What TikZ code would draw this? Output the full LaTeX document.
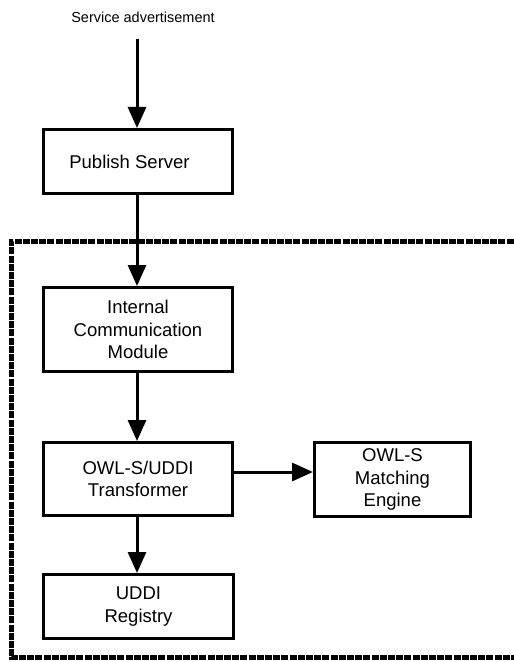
\documentclass[tikz,border=0pt]{standalone}
\usepackage{fontspec}
\setmainfont{Liberation Sans}
\usetikzlibrary{arrows.meta}
\tikzset{
  boxnode/.style={draw, line width=3bp, rectangle, align=center, inner sep=0pt,
    font=\fontsize{18.5bp}{22.5bp}\selectfont},
  arr/.style={line width=3bp, -{Triangle[length=21bp,width=18bp]}},
  frame/.style={line width=5bp, dash pattern=on 7bp off 1.2bp}
}
\begin{document}
\begin{tikzpicture}[x=1bp,y=-1bp]
\useasboundingbox (0,0) rectangle (514,662);
\clip (0,0) rectangle (514,662);
\fill[white] (0,0) rectangle (514,662);
% frame
\draw[frame] (530,241.5) -- (11,241.5) -- (11,657.5) -- (530,657.5);
% nodes
\node[font=\fontsize{14.5bp}{17bp}\selectfont] (svc) at (143,17) {Service advertisement};
\coordinate (svcstart) at (137,39);
\node[boxnode, minimum width=189bp, minimum height=64bp] (pub) at (138,161.5) {Publish Server\hspace*{17bp}};
\node[boxnode, minimum width=189bp, minimum height=84bp] (icm) at (138,329.5) {Internal\\Communication\\Module};
\node[boxnode, minimum width=189bp, minimum height=73bp] (tr) at (138,479) {OWL-S/UDDI\\Transformer};
\node[boxnode, minimum width=156bp, minimum height=74bp] (me) at (392.5,479.5) {OWL-S\\Matching\\Engine};
\node[boxnode, minimum width=190bp, minimum height=64bp] (ud) at (138.5,606.5) {UDDI\\Registry};
% connectors
\draw[arr] (svcstart) -- (svcstart |- pub.north);
\draw[arr] (pub.south -| svcstart) -- (icm.north -| svcstart);
\draw[arr] (icm.south -| svcstart) -- (tr.north -| svcstart);
\draw[arr] (tr.south -| svcstart) -- (ud.north -| svcstart);
\draw[arr] ([yshift=7bp]tr.east) -- ([yshift=7bp]tr.east -| me.west);
\end{tikzpicture}
\end{document}
